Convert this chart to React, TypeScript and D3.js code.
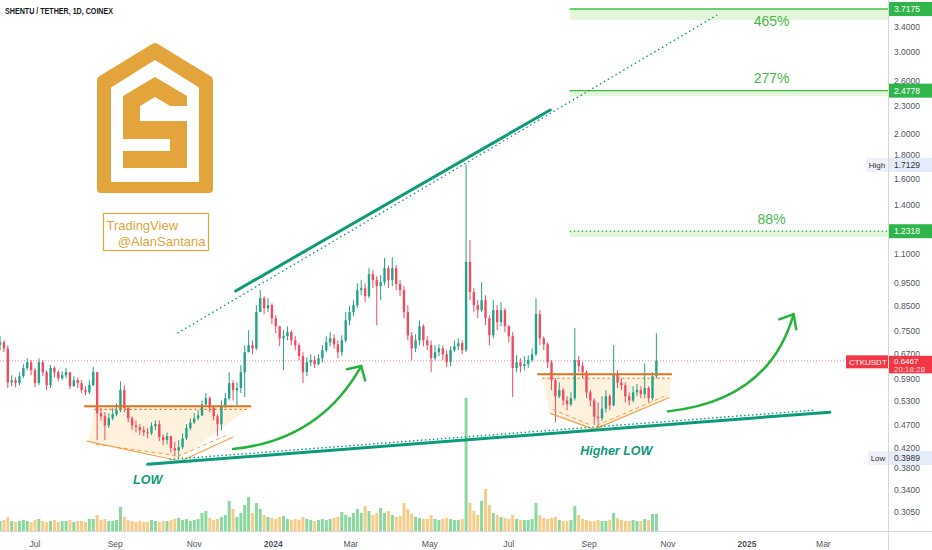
import React from 'react';
import * as d3 from 'd3';

const parse = d3.timeParse('%Y-%m-%d');

// 3-day candles
const firstCandle = '2023-06-04';
const candleStepDays = 3;
const firstOpen = 0.7;

const closes = [
  0.709, 0.688, 0.581, 0.587, 0.579, 0.599, 0.624, 0.642, 0.617, 0.579,
  0.642, 0.611, 0.573, 0.624, 0.611, 0.593, 0.602, 0.611, 0.570, 0.587,
  0.579, 0.559, 0.553, 0.573, 0.611, 0.498, 0.491, 0.469, 0.486, 0.496,
  0.506, 0.559, 0.511, 0.486, 0.469, 0.465, 0.458, 0.453, 0.451, 0.467,
  0.472, 0.443, 0.436, 0.445, 0.419, 0.414, 0.421, 0.440, 0.463, 0.476,
  0.486, 0.493, 0.521, 0.537, 0.513, 0.491, 0.472, 0.518, 0.537, 0.579,
  0.559, 0.565, 0.611, 0.675, 0.699, 0.688, 0.824, 0.883, 0.840, 0.853,
  0.799, 0.768, 0.723, 0.731, 0.746, 0.716, 0.699, 0.662, 0.611, 0.642,
  0.649, 0.636, 0.655, 0.682, 0.709, 0.723, 0.702, 0.675, 0.716, 0.791,
  0.824, 0.853, 0.919, 0.928, 0.892, 0.995, 0.966, 0.937, 0.956, 1.025,
  0.966, 1.025, 0.947, 0.919, 0.824, 0.734, 0.688, 0.716, 0.768, 0.716,
  0.699, 0.655, 0.675, 0.688, 0.668, 0.642, 0.682, 0.695, 0.706, 0.682,
  1.057, 0.910, 0.853, 0.832, 0.874, 0.799, 0.734, 0.832, 0.784, 0.832,
  0.768, 0.731, 0.624, 0.642, 0.630, 0.636, 0.649, 0.668, 0.816, 0.723,
  0.702, 0.642, 0.587, 0.542, 0.559, 0.531, 0.521, 0.537, 0.649, 0.630,
  0.611, 0.553, 0.531, 0.490, 0.486, 0.510, 0.542, 0.518, 0.605, 0.581,
  0.573, 0.542, 0.531, 0.553, 0.559, 0.548, 0.565, 0.537, 0.599, 0.6467,
];

const highs = [
  0.731, 0.716, 0.699, 0.602, 0.596, 0.611, 0.636, 0.655, 0.649, 0.624,
  0.655, 0.649, 0.617, 0.633, 0.630, 0.617, 0.614, 0.624, 0.611, 0.599,
  0.596, 0.587, 0.570, 0.587, 0.627, 0.611, 0.511, 0.501, 0.498, 0.511,
  0.523, 0.584, 0.573, 0.516, 0.491, 0.481, 0.472, 0.467, 0.463, 0.476,
  0.481, 0.481, 0.449, 0.453, 0.445, 0.432, 0.436, 0.451, 0.472, 0.486,
  0.498, 0.506, 0.531, 0.551, 0.542, 0.516, 0.496, 0.531, 0.551, 0.611,
  0.587, 0.581, 0.633, 0.699, 0.753, 0.716, 0.853, 0.919, 0.892, 0.883,
  0.861, 0.811, 0.768, 0.753, 0.768, 0.753, 0.731, 0.706, 0.675, 0.658,
  0.668, 0.662, 0.668, 0.699, 0.731, 0.746, 0.738, 0.716, 0.734, 0.824,
  0.849, 0.874, 0.951, 0.966, 0.951, 1.025, 1.015, 0.985, 0.990, 1.078,
  1.040, 1.083, 1.040, 0.966, 0.937, 0.853, 0.746, 0.738, 0.791, 0.776,
  0.731, 0.716, 0.699, 0.702, 0.699, 0.682, 0.695, 0.716, 0.723, 0.716,
  1.7129, 1.178, 0.928, 0.874, 0.956, 0.896, 0.811, 0.874, 0.853, 0.866,
  0.840, 0.772, 0.746, 0.665, 0.655, 0.662, 0.665, 0.688, 0.883, 0.832,
  0.731, 0.709, 0.649, 0.593, 0.581, 0.565, 0.542, 0.553, 0.761, 0.662,
  0.642, 0.617, 0.559, 0.537, 0.526, 0.542, 0.559, 0.548, 0.699, 0.617,
  0.593, 0.581, 0.553, 0.570, 0.576, 0.570, 0.639, 0.570, 0.611, 0.742,
];

const lows = [
  0.682, 0.675, 0.565, 0.570, 0.567, 0.573, 0.593, 0.617, 0.602, 0.567,
  0.573, 0.599, 0.559, 0.565, 0.596, 0.584, 0.587, 0.593, 0.562, 0.570,
  0.565, 0.551, 0.545, 0.548, 0.570, 0.436, 0.481, 0.436, 0.463, 0.481,
  0.491, 0.501, 0.501, 0.476, 0.458, 0.453, 0.447, 0.445, 0.440, 0.447,
  0.458, 0.434, 0.425, 0.427, 0.410, 0.402, 0.3989, 0.417, 0.436, 0.458,
  0.472, 0.481, 0.491, 0.516, 0.501, 0.481, 0.445, 0.458, 0.511, 0.531,
  0.531, 0.518, 0.551, 0.540, 0.675, 0.668, 0.682, 0.824, 0.816, 0.824,
  0.776, 0.742, 0.695, 0.617, 0.716, 0.699, 0.682, 0.649, 0.579, 0.599,
  0.630, 0.624, 0.633, 0.642, 0.675, 0.695, 0.688, 0.655, 0.662, 0.709,
  0.772, 0.807, 0.840, 0.896, 0.866, 0.883, 0.928, 0.772, 0.874, 0.942,
  0.928, 0.937, 0.919, 0.892, 0.799, 0.716, 0.649, 0.675, 0.699, 0.695,
  0.682, 0.611, 0.649, 0.662, 0.649, 0.627, 0.630, 0.675, 0.682, 0.668,
  0.675, 0.874, 0.824, 0.799, 0.824, 0.772, 0.699, 0.723, 0.753, 0.768,
  0.746, 0.709, 0.540, 0.611, 0.611, 0.617, 0.624, 0.642, 0.662, 0.699,
  0.682, 0.624, 0.559, 0.476, 0.537, 0.518, 0.506, 0.516, 0.531, 0.611,
  0.593, 0.537, 0.516, 0.470, 0.463, 0.480, 0.500, 0.506, 0.516, 0.565,
  0.559, 0.526, 0.518, 0.526, 0.542, 0.537, 0.537, 0.526, 0.531, 0.593,
];

// volume, millions
const volumes = [
  10, 11, 14, 10, 9, 10, 11, 10, 9, 11,
  12, 10, 9, 10, 11, 9, 10, 10, 11, 9,
  10, 10, 9, 12, 12, 16, 11, 12, 10, 10,
  11, 24, 14, 11, 10, 9, 10, 9, 9, 11,
  10, 9, 10, 10, 11, 12, 13, 11, 12, 10,
  11, 12, 18, 20, 13, 11, 12, 14, 16, 30,
  22, 14, 18, 26, 34, 18, 28, 22, 16, 14,
  13, 12, 14, 15, 12, 11, 12, 11, 14, 12,
  11, 10, 11, 12, 11, 12, 13, 14, 19, 16,
  14, 18, 22, 18, 25, 20, 16, 18, 23, 18,
  20, 16, 14, 15, 28, 22, 17, 14, 13, 12,
  12, 16, 12, 11, 12, 13, 12, 11, 11, 12,
  133, 28, 20, 16, 30, 42, 26, 18, 16, 14,
  13, 12, 16, 12, 11, 11, 11, 12, 28, 16,
  13, 12, 13, 14, 11, 10, 10, 11, 25, 16,
  12, 11, 10, 10, 11, 10, 10, 11, 18, 13,
  11, 10, 10, 11, 10, 10, 12, 11, 17, 17,
];

const priceTicks = [3.4, 3.0, 2.6, 2.3, 2.0, 1.8, 1.6, 1.4, 1.1, 0.95, 0.85, 0.75, 0.67, 0.59, 0.53, 0.47, 0.42, 0.38, 0.34, 0.305];
const monthTicks = ['2023-07-01', '2023-09-01', '2023-11-01', '2024-01-01', '2024-03-01', '2024-05-01', '2024-07-01', '2024-09-01', '2024-11-01', '2025-01-01', '2025-03-01'];
const monthLabels = ['Jul', 'Sep', 'Nov', '2024', 'Mar', 'May', 'Jul', 'Sep', 'Nov', '2025', 'Mar'];

const targetLevels = [3.7175, 2.4778, 1.2318];
const targetBandEdges = [3.52, 2.412, 1.196];
const targetLabels = ['465%', '277%', '88%'];
const targetStart = '2024-08-17';
const targetLabelDate = '2025-01-20';
const lastPrice = 0.6467;
const highPrice = 1.7129;
const lowPrice = 0.3989;

type Pt = [string, number];
const upperTrend: Pt[] = [['2023-12-03', 0.915], ['2024-08-02', 2.25]];
const upperDotted: Pt[] = [['2023-10-19', 0.742], ['2024-12-09', 3.609]];
const lowerTrend: Pt[] = [['2023-09-26', 0.3866], ['2025-03-06', 0.501]];
const lowerDotted: Pt[] = [['2023-10-13', 0.396], ['2025-02-22', 0.506]];

const p1Top: Pt[] = [['2023-08-08', 0.516], ['2023-12-15', 0.516]];
const p1TopDot: Pt[] = [['2023-08-16', 0.508], ['2023-12-12', 0.508]];
const p1Fill: Pt[] = [['2023-08-16', 0.512], ['2023-12-14', 0.512], ['2023-10-20', 0.396], ['2023-08-11', 0.434]];
const p1LeftSolid: Pt[] = [['2023-08-10', 0.434], ['2023-10-19', 0.394]];
const p1LeftDash: Pt[] = [['2023-08-17', 0.427], ['2023-10-18', 0.404]];
const p1RightSolid: Pt[] = [['2023-10-21', 0.392], ['2023-12-01', 0.443]];
const p1RightDash: Pt[] = [['2023-10-19', 0.402], ['2023-11-28', 0.449]];

const p2Top: Pt[] = [['2024-07-23', 0.605], ['2024-11-04', 0.605]];
const p2TopDot: Pt[] = [['2024-07-27', 0.593], ['2024-11-04', 0.593]];
const p2Fill: Pt[] = [['2024-07-27', 0.597], ['2024-11-04', 0.597], ['2024-11-02', 0.539], ['2024-09-05', 0.46], ['2024-08-02', 0.498]];
const p2LeftSolid: Pt[] = [['2024-08-02', 0.498], ['2024-09-05', 0.46]];
const p2LeftDash: Pt[] = [['2024-08-04', 0.508], ['2024-09-03', 0.469]];
const p2RightSolid: Pt[] = [['2024-09-05', 0.46], ['2024-11-02', 0.539]];
const p2RightDash: Pt[] = [['2024-09-07', 0.469], ['2024-10-29', 0.542]];

const arrow1: Pt[] = [['2023-12-01', 0.417], ['2024-02-06', 0.436], ['2024-03-09', 0.63]];
const head1: Pt[] = [['2024-02-27', 0.62], ['2024-03-09', 0.63], ['2024-03-12', 0.587]];
const arrow2: Pt[] = [['2024-11-01', 0.503], ['2025-01-18', 0.531], ['2025-02-06', 0.816]];
const head2: Pt[] = [['2025-01-26', 0.795], ['2025-02-06', 0.816], ['2025-02-08', 0.757]];

const lowLabel: Pt = ['2023-09-26', 0.35];
const higherLowLabel: Pt = ['2024-09-22', 0.404];

const W = 932;
const H = 550;
const plotR = 888;
const plotB = 531;

const x = d3.scaleTime().domain([parse('2023-07-01')!, parse('2025-01-01')!]).range([35, 747]);
const y = d3.scaleLog().domain([0.305, 3.4]).range([512, 27]);
const yv = d3.scaleLinear().domain([0, 140]).range([plotB, plotB - 140]);

const pt = (p: Pt): [number, number] => [x(parse(p[0])!), y(p[1])];
const line = d3.line<[number, number]>();
const path = (pts: Pt[]) => line(pts.map(pt)) as string;
const quad = (pts: Pt[]) => {
  const [a, b, c] = pts.map(pt);
  return `M${a[0]},${a[1]} Q${b[0]},${b[1]} ${c[0]},${c[1]}`;
};

const UP = '#22a38b';
const DOWN = '#f04c5f';
const TEAL = '#0f9a7c';
const ORANGE = '#e5701c';
const ORANGE_THIN = '#f2a24f';
const GREEN = '#45b94a';
const GREEN_ARROW = '#26b33b';
const GOLD = '#e2a43b';
const AXIS_TXT = '#50535e';
const FONT = '"Liberation Sans", Arial, sans-serif';
const fmt = d3.format('.4f');

export default function App() {
  const start = parse(firstCandle)!;
  const candles = closes.map((c, i) => {
    const o = i === 0 ? firstOpen : closes[i - 1];
    return {
      cx: x(d3.timeDay.offset(start, i * candleStepDays)),
      o,
      c,
      h: Math.max(highs[i], o, c),
      l: Math.min(lows[i], o, c),
      v: volumes[i],
      up: c >= o,
    };
  });
  const bw = 2.4;

  const tx = x(parse(targetStart)!);
  const labelX = x(parse(targetLabelDate)!);
  const labelOffsets = [17, -8, -7];

  const yLast = y(lastPrice);
  const yHigh = y(highPrice);
  const yLow = y(lowPrice);

  return (
    <div style={{ position: 'fixed', left: 0, top: 0 }}>
      <svg width={W} height={H} style={{ display: 'block', fontFamily: FONT }}>
        <defs>
          <clipPath id="plot">
            <rect x={0} y={0} width={plotR} height={plotB} />
          </clipPath>
        </defs>
        <rect width={W} height={H} fill="#fff" />

        <g clipPath="url(#plot)">
          {/* target bands */}
          {targetLevels.map((lv, i) => (
            <g key={lv}>
              <rect x={tx} y={y(lv)} width={plotR - tx} height={y(targetBandEdges[i]) - y(lv)} fill="#e3f6dc" />
              <line
                x1={tx} x2={plotR} y1={y(lv)} y2={y(lv)}
                stroke="#3fbf3f" strokeWidth={i === 2 ? 1.6 : 1.4}
                strokeDasharray={i === 2 ? '1.5 2.5' : undefined}
              />
              <text x={labelX} y={y(lv) + labelOffsets[i]} textAnchor="middle" fontSize={14} fill={GREEN}>
                {targetLabels[i]}
              </text>
            </g>
          ))}

          {/* pattern fills */}
          <path d={path(p1Fill) + 'Z'} fill="#fde7c8" opacity={0.6} />
          <path d={path(p2Fill) + 'Z'} fill="#fde7c8" opacity={0.6} />

          {/* last price line */}
          <line x1={0} x2={plotR} y1={yLast} y2={yLast} stroke="#f23645" strokeOpacity={0.6} strokeDasharray="1 2" />

          {/* volume */}
          {candles.map((d, i) => (
            <rect key={'v' + i} x={d.cx - 1.5} y={yv(d.v)} width={3} height={plotB - yv(d.v)}
              fill={d.up ? '#8ad89f' : '#f8cc88'} />
          ))}

          {/* candles */}
          {candles.map((d, i) => {
            const col = d.up ? UP : DOWN;
            const top = y(Math.max(d.o, d.c));
            const bot = y(Math.min(d.o, d.c));
            return (
              <g key={'c' + i}>
                <line x1={d.cx} x2={d.cx} y1={y(d.h)} y2={y(d.l)} stroke={col} strokeWidth={1} />
                <rect x={d.cx - bw / 2} y={top} width={bw} height={Math.max(1, bot - top)} fill={col} />
              </g>
            );
          })}

          {/* orange patterns */}
          <path d={path(p1Top)} stroke={ORANGE} strokeWidth={2} />
          <path d={path(p1TopDot)} stroke={ORANGE} strokeWidth={1.2} strokeDasharray="2 3" />
          <path d={path(p1LeftSolid)} stroke={ORANGE_THIN} strokeWidth={1.2} />
          <path d={path(p1LeftDash)} stroke={ORANGE_THIN} strokeWidth={1} strokeDasharray="4 3" />
          <path d={path(p1RightSolid)} stroke={ORANGE_THIN} strokeWidth={1.2} />
          <path d={path(p1RightDash)} stroke={ORANGE_THIN} strokeWidth={1} strokeDasharray="4 3" />
          <path d={path(p2Top)} stroke={ORANGE} strokeWidth={2} />
          <path d={path(p2TopDot)} stroke={ORANGE} strokeWidth={1.2} strokeDasharray="2 3" />
          <path d={path(p2LeftSolid)} stroke={ORANGE_THIN} strokeWidth={1.2} />
          <path d={path(p2LeftDash)} stroke={ORANGE_THIN} strokeWidth={1} strokeDasharray="4 3" />
          <path d={path(p2RightSolid)} stroke={ORANGE_THIN} strokeWidth={1.2} />
          <path d={path(p2RightDash)} stroke={ORANGE_THIN} strokeWidth={1} strokeDasharray="4 3" />

          {/* trend lines */}
          <path d={path(upperTrend)} stroke={TEAL} strokeWidth={3} strokeLinecap="round" />
          <path d={path(upperDotted)} stroke={TEAL} strokeWidth={1.4} strokeDasharray="1.5 3" />
          <path d={path(lowerTrend)} stroke={TEAL} strokeWidth={3} strokeLinecap="round" />
          <path d={path(lowerDotted)} stroke={TEAL} strokeWidth={1.4} strokeDasharray="1.5 2.5" />

          {/* arrows */}
          {[[arrow1, head1], [arrow2, head2]].map(([a, h], i) => (
            <g key={'a' + i} fill="none" stroke={GREEN_ARROW} strokeWidth={2.5} strokeLinecap="round" strokeLinejoin="round">
              <path d={quad(a)} />
              <path d={path(h)} />
            </g>
          ))}

          <text x={pt(lowLabel)[0]} y={pt(lowLabel)[1]} textAnchor="middle" fontSize={12.5}
            fontWeight="bold" fontStyle="italic" fill={TEAL}>LOW</text>
          <text x={pt(higherLowLabel)[0]} y={pt(higherLowLabel)[1]} textAnchor="middle" fontSize={12.5}
            fontWeight="bold" fontStyle="italic" fill={TEAL}>Higher LOW</text>
        </g>

        {/* logo */}
        <g>
          <polygon points="155,47 209,80 209,189 101,189 101,80" fill={GOLD} stroke={GOLD} strokeWidth={8} strokeLinejoin="round" />
          <polygon points="155,61 198,88 198,181 112,181 112,88" fill="#fff" stroke="#fff" strokeWidth={2} strokeLinejoin="round" />
          <polygon points="155,77 187,96 187,168 123,168 123,96" fill={GOLD} />
          <polygon points="140,121 140,106 155,97 170,106 187,106 187,121" fill="#fff" />
          <rect x={123} y={139} width={47} height={12} fill="#fff" />
          <rect x={103.5} y={213.5} width={105} height={37} fill="none" stroke={GOLD} strokeWidth={1.2} />
          <text x={106.5} y={230} fontSize={13} fill={GOLD}>TradingView</text>
          <text x={205.5} y={245.5} fontSize={13} fill={GOLD} textAnchor="end">@AlanSantana</text>
        </g>

        {/* title */}
        <text x={5} y={14} fontSize={8.5} fontWeight="bold" fill="#131722" textLength={108} lengthAdjust="spacingAndGlyphs">
          SHENTU / TETHER, 1D, COINEX
        </text>

        {/* axes */}
        <line x1={plotR + 0.5} x2={plotR + 0.5} y1={0} y2={H} stroke="#d6d8de" />
        <line x1={0} x2={W} y1={plotB + 0.5} y2={plotB + 0.5} stroke="#d6d8de" />
        {priceTicks.map((t) => (
          <text key={t} x={894} y={y(t)} dy="0.35em" fontSize={8.5} fill={AXIS_TXT}>{fmt(t)}</text>
        ))}
        {monthTicks.map((m, i) => (
          <text key={m} x={x(parse(m)!)} y={544} dy="0.35em" textAnchor="middle" fontSize={8.5}
            fontWeight={monthLabels[i].length === 4 ? 'bold' : 'normal'} fill={AXIS_TXT}>{monthLabels[i]}</text>
        ))}

        {/* axis price labels */}
        {targetLevels.map((lv) => (
          <g key={'l' + lv}>
            <rect x={889} y={y(lv) - 7} width={43} height={14} fill="#2fb54a" />
            <text x={894} y={y(lv)} dy="0.35em" fontSize={8.5} fill="#fff">{fmt(lv)}</text>
          </g>
        ))}
        <rect x={866} y={yHigh - 7} width={22} height={14} fill="#eef1f7" />
        <text x={877} y={yHigh} dy="0.35em" textAnchor="middle" fontSize={8} fill="#333">High</text>
        <rect x={889} y={yHigh - 7} width={43} height={14} fill="#e4ecfa" />
        <text x={894} y={yHigh} dy="0.35em" fontSize={8.5} fill="#333">{fmt(highPrice)}</text>
        <rect x={868} y={yLow - 7} width={20} height={14} fill="#eef1f7" />
        <text x={878} y={yLow} dy="0.35em" textAnchor="middle" fontSize={8} fill="#333">Low</text>
        <rect x={889} y={yLow - 7} width={43} height={14} fill="#e4ecfa" />
        <text x={894} y={yLow} dy="0.35em" fontSize={8.5} fill="#333">{fmt(lowPrice)}</text>

        <rect x={846} y={yLast - 5.5} width={42} height={13} fill="#f23645" />
        <text x={849} y={yLast + 1} dy="0.35em" fontSize={8} fill="#fff">CTKUSDT</text>
        <rect x={889} y={yLast - 5} width={43} height={17.5} fill="#f23645" />
        <text x={894} y={yLast + 0.5} dy="0.35em" fontSize={8} fill="#fff">{fmt(lastPrice)}</text>
        <text x={894} y={yLast + 8.7} dy="0.35em" fontSize={8} fill="#ffd5d8">20:18:28</text>
      </svg>
    </div>
  );
}
